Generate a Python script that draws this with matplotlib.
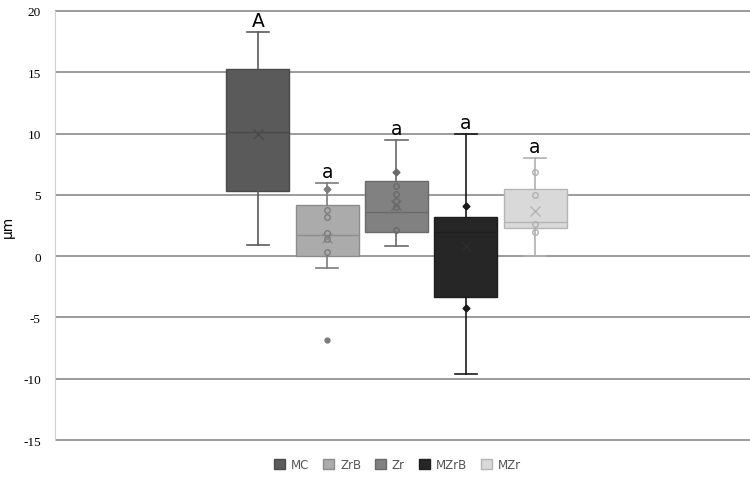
import matplotlib
matplotlib.use("Agg")
from matplotlib import pyplot as plt
from matplotlib.patches import Patch

plt.rcParams["axes.unicode_minus"] = False

# data
groups = ["MC", "ZrB", "Zr", "MZrB", "MZr"]
whis_hi = [18.3, 6.0, 9.5, 10.0, 8.0]
q3 = [15.3, 4.2, 6.1, 3.2, 5.5]
median = [10.1, 1.7, 3.6, 2.0, 2.8]
q1 = [5.3, 0.0, 2.0, -3.3, 2.3]
whis_lo = [0.9, -1.0, 0.8, -9.6, 0.0]
means = [10.0, 1.5, 4.2, 0.8, 3.7]
outliers = [[], [-6.8], [], [], []]
inner_pts = [[], [3.8, 3.2, 1.9, 1.4, 0.3], [5.7, 5.1, 4.5, 4.0, 2.1], [], [6.9, 5.0, 2.6, 2.0]]
marked_pts = [[], [5.5], [6.9], [4.1, -4.2], []]
letters = ["A", "a", "a", "a", "a"]

fills = ["#5a5a5a", "#ababab", "#818181", "#262626", "#d9d9d9"]
edges = ["#4a4a4a", "#8c8c8c", "#6a6a6a", "#1e1e1e", "#b5b5b5"]
lines = ["#5a5a5a", "#7c7c7c", "#6a6a6a", "#1a1a1a", "#b0b0b0"]
mean_cols = ["#4a4a4a", "#8c8c8c", "#6a6a6a", "#2c2c2c", "#b5b5b5"]

fig = plt.figure(figsize=(7.5, 4.85), dpi=100)
ax = fig.add_axes([0.073, 0.088, 0.927, 0.89])

pos = list(range(len(groups)))
for i, g in enumerate(groups):
    st = dict(med=median[i], q1=q1[i], q3=q3[i], whislo=whis_lo[i], whishi=whis_hi[i],
              mean=means[i], fliers=outliers[i], label=g)
    ax.bxp([st], positions=[pos[i]], widths=0.91, patch_artist=True, showmeans=True,
           boxprops=dict(facecolor=fills[i], edgecolor=edges[i], linewidth=1),
           medianprops=dict(color=edges[i], linewidth=1),
           whiskerprops=dict(color=lines[i], linewidth=1.2),
           capprops=dict(color=lines[i], linewidth=1.2),
           capwidths=0.32,
           meanprops=dict(marker="x", markeredgecolor=mean_cols[i], markersize=7,
                          markeredgewidth=1),
           flierprops=dict(marker="o", markersize=3.5, markerfacecolor=lines[i],
                           markeredgecolor=lines[i]),
           zorder=3)
    ax.plot([pos[i]] * len(inner_pts[i]), inner_pts[i], "o", ms=4, mfc="none",
            mec=lines[i], mew=1, zorder=4)
    ax.plot([pos[i]] * len(marked_pts[i]), marked_pts[i], "D", ms=3.5, mfc=lines[i],
            mec=lines[i], zorder=4)
    ax.text(pos[i], whis_hi[i] + 0.15, letters[i], ha="center", va="bottom",
            fontsize=13.5, color="black", zorder=5)

ax.set_ylim(-15.1, 20.1)
ax.set_xlim(-2.93, 7.1)
ax.set_yticks(range(-15, 21, 5))
ax.set_xticks([])
ax.yaxis.grid(True, color="#8a8a8a", linewidth=1.2, zorder=0)
ax.set_axisbelow(True)
for s in ["top", "right", "bottom"]:
    ax.spines[s].set_visible(False)
ax.spines["left"].set_color("#d0d0d0")
ax.spines["left"].set_bounds(-15, 20)
ax.tick_params(axis="y", length=0, pad=10, labelsize=9.5)
for t in ax.get_yticklabels():
    t.set_family("Liberation Serif")
ax.set_ylabel("µm", fontsize=10, labelpad=6)

handles = [Patch(facecolor=fills[i], edgecolor=edges[i], label=g) for i, g in enumerate(groups)]
fig.legend(handles=handles, loc="lower center", bbox_to_anchor=(0.53, 0.005), ncol=5,
           frameon=False, fontsize=8.5, handlelength=0.9, handleheight=0.9,
           columnspacing=1.2, handletextpad=0.5, labelcolor="#555555")

fig.savefig("out.png", dpi=100)
